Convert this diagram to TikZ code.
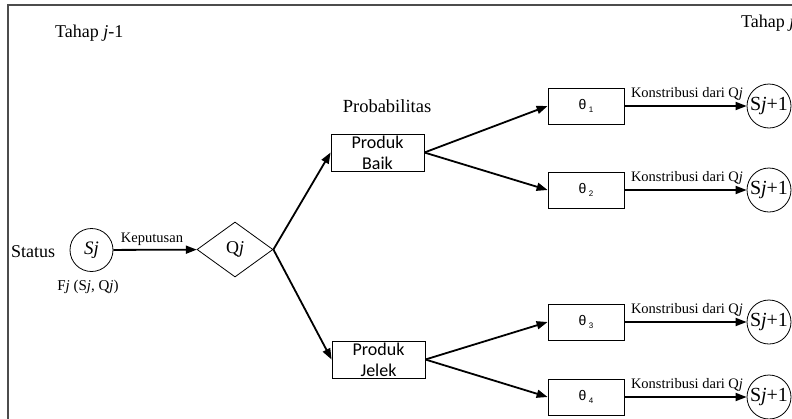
\documentclass[tikz,border=0pt]{standalone}
\usepackage{fontspec}
\setmainfont{Liberation Serif}
\newfontfamily\boxfont{Carlito}
\newfontfamily\thetafont{Liberation Sans}
\usetikzlibrary{arrows.meta,shapes.geometric}
\begin{document}
\begin{tikzpicture}[x=1pt,y=-1pt,
  arr/.style={line width=1.8pt,-{Triangle[length=11pt,width=8pt]}},
  probbox/.style={draw,line width=0.8pt,minimum width=93pt,minimum height=37pt,inner sep=0pt,align=center,font=\boxfont\fontsize{18}{21}\selectfont},
  thbox/.style={draw,line width=0.8pt,minimum width=76pt,minimum height=36pt,inner sep=0pt,font=\thetafont\fontsize{14}{16}\selectfont},
  statecirc/.style={draw,circle,line width=0.8pt,minimum size=44pt,inner sep=0pt,font=\fontsize{20}{22}\selectfont},
  lbl/.style={inner sep=0pt,anchor=base},
  big/.style={font=\fontsize{18}{20}\selectfont},
  small/.style={font=\fontsize{14.5}{16}\selectfont},
]
\useasboundingbox (0,0) rectangle (792,418);
\fill[white] (0,0) rectangle (792,418);
% frame
\draw[line width=1.2pt,black!70] (8,430) -- (8,5) -- (800,5);
% stage labels
\node[lbl,big,anchor=base west] (t1) at (55,37) {Tahap \textit{j}-1};
\node[lbl,big,anchor=base west] (t2) at (741,27) {Tahap \textit{j}};
% left part
\node[lbl,big,anchor=base west] (status) at (11,257) {Status};
\node[statecirc,minimum size=43pt,font=\fontsize{19}{22}\selectfont] (sj) at (91.5,250) {\textit{Sj}};
\node[lbl,font=\fontsize{15}{17}\selectfont] (fj) at (88,290) {F\textit{j} (S\textit{j}, Q\textit{j})};
\node[draw,diamond,line width=0.8pt,minimum width=76pt,minimum height=55pt,inner sep=0pt,font=\fontsize{18}{20}\selectfont] (q) at (235,249.5) {Q\textit{j}};
\draw[arr] (sj) -- (q);
\node[lbl,small] (kep) at (152,242) {Keputusan};
% probability boxes
\node[lbl,font=\fontsize{18.5}{20}\selectfont] (prob) at (387,112) {Probabilitas};
\node[probbox] (pb) at (377.5,152.5) {Produk\\Baik};
\node[probbox] (pj) at (378.5,359.5) {Produk\\Jelek};
\draw[arr] (q.east) -- (pb.west);
\draw[arr] (q.east) -- (pj.west);
% theta boxes
\foreach \i/\y in {1/106,2/190,3/322,4/397}{
  \node[thbox] (th\i) at (586,\y) {θ\,\raisebox{-2.5pt}{\fontsize{8}{9}\selectfont \i}};
  \node[statecirc] (sn\i) at (769,\y) {S\textit{j}+1};
  \draw[arr] (th\i) -- (sn\i);
  \node[lbl,small] (k\i) at (687,\y-9) {Konstribusi dari Q\textit{j}};
}
\draw[arr] (pb.east) -- (th1.west);
\draw[arr] (pb.east) -- (th2.west);
\draw[arr] (pj.east) -- (th3.west);
\draw[arr] (pj.east) -- (th4.west);
\end{tikzpicture}
\end{document}
